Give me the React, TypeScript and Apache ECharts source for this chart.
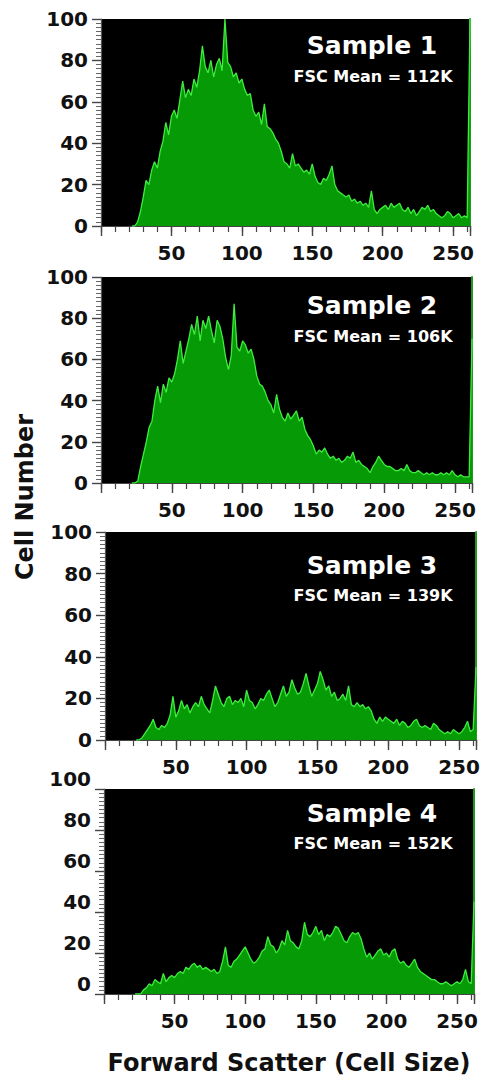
import { useEffect, useRef } from 'react';
import * as echarts from 'echarts';

// Forward scatter channel (x, in thousands), one point every 2 channels
const channels = [
  22, 24, 26, 28, 30, 32, 34, 36, 38, 40,
  42, 44, 46, 48, 50, 52, 54, 56, 58, 60,
  62, 64, 66, 68, 70, 72, 74, 76, 78, 80,
  82, 84, 86, 88, 90, 92, 94, 96, 98, 100,
  102, 104, 106, 108, 110, 112, 114, 116, 118, 120,
  122, 124, 126, 128, 130, 132, 134, 136, 138, 140,
  142, 144, 146, 148, 150, 152, 154, 156, 158, 160,
  162, 164, 166, 168, 170, 172, 174, 176, 178, 180,
  182, 184, 186, 188, 190, 192, 194, 196, 198, 200,
  202, 204, 206, 208, 210, 212, 214, 216, 218, 220,
  222, 224, 226, 228, 230, 232, 234, 236, 238, 240,
  242, 244, 246, 248, 250, 252, 254, 256, 258, 260,
  262,
];

const sample1 = [
  0, 0, 2, 7, 14, 22, 20, 27, 31, 28,
  36, 41, 50, 44, 53, 56, 52, 61, 70, 62,
  66, 63, 71, 67, 75, 87, 77, 74, 80, 72,
  78, 81, 75, 100, 79, 77, 72, 74, 69, 71,
  66, 63, 64, 56, 53, 55, 49, 59, 48, 47,
  45, 42, 40, 36, 31, 30, 28, 35, 29, 30,
  28, 26, 27, 25, 30, 24, 21, 20, 23, 22,
  25, 29, 20, 17, 16, 15, 14, 15, 12, 13,
  11, 12, 10, 11, 9, 17, 8, 6, 8, 9,
  10, 8, 11, 9, 10, 11, 8, 7, 9, 6,
  8, 5, 7, 9, 8, 10, 7, 8, 6, 5,
  4, 5, 7, 6, 4, 5, 6, 4, 5, 4,
  100,
];

const sample2 = [
  0, 0, 1, 8, 14, 20, 27, 30, 40, 47,
  39, 48, 44, 51, 49, 53, 60, 69, 58, 64,
  70, 77, 72, 81, 69, 79, 75, 81, 74, 68,
  79, 76, 70, 61, 55, 62, 87, 66, 64, 69,
  67, 63, 65, 60, 52, 48, 47, 44, 40, 38,
  34, 43, 36, 32, 30, 34, 31, 33, 35, 30,
  32, 26, 23, 21, 18, 14, 16, 15, 17, 14,
  12, 13, 11, 12, 10, 11, 13, 12, 15, 10,
  11, 9, 8, 7, 5, 8, 10, 13, 11, 9,
  8, 8, 7, 6, 6, 7, 6, 9, 6, 5,
  5, 6, 5, 4, 5, 4, 5, 4, 4, 5,
  4, 5, 4, 6, 4, 3, 4, 3, 3, 3,
  70,
];

const sample3 = [
  0, 0, 1, 3, 5, 7, 10, 6, 5, 7,
  6, 8, 12, 21, 11, 14, 19, 15, 17, 13,
  16, 18, 16, 21, 17, 15, 13, 19, 26, 22,
  18, 16, 20, 21, 17, 19, 18, 20, 16, 24,
  19, 18, 15, 17, 20, 19, 22, 24, 20, 16,
  18, 22, 26, 21, 23, 29, 25, 22, 23, 27,
  32, 26, 21, 24, 27, 33, 29, 24, 26, 21,
  23, 19, 20, 22, 19, 26, 17, 16, 18, 16,
  17, 15, 16, 14, 10, 8, 11, 9, 11, 10,
  9, 8, 10, 7, 9, 8, 6, 7, 9, 10,
  7, 6, 7, 6, 5, 8, 7, 5, 4, 3,
  4, 3, 5, 4, 3, 4, 6, 9, 4, 5,
  35,
];

const sample4 = [
  0, 0, 0, 2, 3, 5, 4, 7, 6, 5,
  10, 6, 8, 9, 8, 10, 11, 10, 13, 12,
  14, 15, 13, 14, 12, 13, 12, 11, 12, 10,
  11, 16, 23, 14, 13, 16, 17, 19, 21, 23,
  20, 17, 15, 16, 18, 21, 22, 28, 24, 23,
  20, 22, 26, 24, 31, 26, 25, 23, 22, 26,
  35, 29, 28, 30, 33, 29, 31, 26, 29, 28,
  30, 33, 32, 29, 26, 25, 28, 30, 29, 30,
  27, 22, 18, 20, 17, 19, 21, 22, 19, 20,
  18, 21, 22, 17, 15, 16, 14, 13, 15, 17,
  13, 11, 10, 9, 8, 7, 7, 6, 5, 5,
  6, 5, 4, 5, 6, 5, 7, 12, 6, 5,
  45,
];

const samples = [sample1, sample2, sample3, sample4];
const sampleNames = ['Sample 1', 'Sample 2', 'Sample 3', 'Sample 4'];
const fscMeans = ['FSC Mean = 112K', 'FSC Mean = 106K', 'FSC Mean = 139K', 'FSC Mean = 152K'];
const xLabelValues = [50, 100, 150, 200, 250];

const X_MAX = 262;
const FONT = '"DejaVu Sans", "Liberation Sans", sans-serif';

const panels = [
  { left: 101, top: 19, width: 369, height: 207, tx: 372, ty: 45, sy: 76, raised: false },
  { left: 101, top: 277, width: 371, height: 206, tx: 372, ty: 305, sy: 336, raised: false },
  { left: 105, top: 532, width: 371, height: 208, tx: 372, ty: 565, sy: 595, raised: false },
  { left: 104, top: 789, width: 370, height: 205, tx: 372, ty: 813, sy: 843, raised: true },
];

export default function App() {
  const ref = useRef<HTMLDivElement>(null);

  useEffect(() => {
    if (!ref.current) return;
    const chart = echarts.init(ref.current, undefined, { renderer: 'svg' });

    const grid: any[] = [];
    const xAxis: any[] = [];
    const yAxis: any[] = [];
    const series: any[] = [];
    const graphic: any[] = [];

    panels.forEach((p, i) => {
      grid.push({
        left: p.left,
        top: p.top,
        width: p.width,
        height: p.height,
        show: true,
        backgroundColor: '#000000',
        borderWidth: 0,
      });
      // minor ticks every 10
      xAxis.push({
        type: 'value',
        gridIndex: i,
        position: 'bottom',
        min: 0,
        max: X_MAX,
        interval: 10,
        axisLine: { show: true, onZero: false, lineStyle: { color: '#444', width: 1.2 } },
        axisTick: { show: true, length: 6, lineStyle: { color: '#444', width: 1.2 } },
        axisLabel: { show: false },
        splitLine: { show: false },
      });
      // major ticks every 50 with labels
      xAxis.push({
        type: 'value',
        gridIndex: i,
        position: 'bottom',
        min: 0,
        max: X_MAX,
        interval: 50,
        axisLine: { show: false, onZero: false },
        axisTick: { show: true, length: 10, lineStyle: { color: '#444', width: 1.4 } },
        axisLabel: {
          show: true,
          margin: 17,
          color: '#111',
          fontFamily: FONT,
          fontWeight: 'bold',
          fontSize: 20,
          formatter: (v: number) => (xLabelValues.indexOf(v) >= 0 ? String(v) : ''),
        },
        splitLine: { show: false },
      });
      yAxis.push({
        type: 'value',
        gridIndex: i,
        position: 'left',
        min: 0,
        max: 100,
        interval: 20,
        axisLine: { show: true, onZero: false, lineStyle: { color: '#555', width: 1.2 } },
        axisTick: { show: true, length: 9, lineStyle: { color: '#444', width: 1.4 } },
        minorTick: { show: true, splitNumber: 10, length: 5, lineStyle: { color: '#666', width: 1 } },
        axisLabel: {
          show: true,
          margin: 13,
          color: '#111',
          fontFamily: FONT,
          fontWeight: 'bold',
          fontSize: 20,
          verticalAlign: p.raised ? 'bottom' : 'middle',
        },
        splitLine: { show: false },
      });
      yAxis.push({
        type: 'value',
        gridIndex: i,
        position: 'right',
        min: 0,
        max: 100,
        axisLine: { show: true, onZero: false, lineStyle: { color: '#1f9a1f', width: 2 } },
        axisTick: { show: false },
        axisLabel: { show: false },
        splitLine: { show: false },
      });
      series.push({
        type: 'line',
        xAxisIndex: 2 * i,
        yAxisIndex: 2 * i,
        data: channels.map((c, k) => [c, samples[i][k]]),
        showSymbol: false,
        symbol: 'none',
        smooth: false,
        lineStyle: { color: '#3ded3d', width: 1.3 },
        areaStyle: { color: '#079a07', opacity: 1 },
        z: 3,
      });
      graphic.push({
        type: 'text',
        x: p.tx,
        y: p.ty,
        style: {
          text: sampleNames[i],
          fill: '#ffffff',
          font: `bold 25px ${FONT}`,
          textAlign: 'center',
          textVerticalAlign: 'middle',
        },
        z: 10,
      });
      graphic.push({
        type: 'text',
        x: p.tx + 1,
        y: p.sy,
        style: {
          text: fscMeans[i],
          fill: '#ffffff',
          font: `bold 16px ${FONT}`,
          textAlign: 'center',
          textVerticalAlign: 'middle',
        },
        z: 10,
      });
    });

    graphic.push({
      type: 'text',
      x: 25,
      y: 497,
      rotation: Math.PI / 2,
      style: {
        text: 'Cell Number',
        fill: '#111',
        font: `bold 24px ${FONT}`,
        textAlign: 'center',
        textVerticalAlign: 'middle',
      },
    });
    graphic.push({
      type: 'text',
      x: 289,
      y: 1063,
      style: {
        text: 'Forward Scatter (Cell Size)',
        fill: '#111',
        font: `bold 24px ${FONT}`,
        textAlign: 'center',
        textVerticalAlign: 'middle',
      },
    });

    chart.setOption({
      animation: false,
      backgroundColor: '#ffffff',
      grid,
      xAxis,
      yAxis,
      series,
      graphic,
    });

    return () => chart.dispose();
  }, []);

  return (
    <div
      ref={ref}
      style={{ position: 'fixed', left: 0, top: 0, width: 487, height: 1081 }}
    />
  );
}
